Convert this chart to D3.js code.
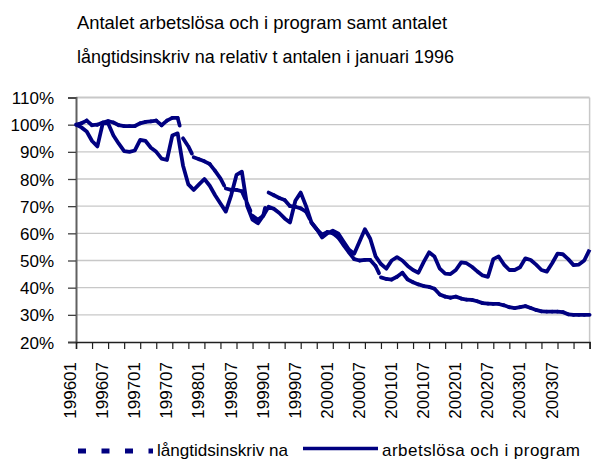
<!DOCTYPE html>
<html><head><meta charset="utf-8">
<script src="https://cdn.jsdelivr.net/npm/d3@7"></script>
<style>body{margin:0;background:#fff}svg{display:block}text{font-family:"Liberation Sans",Arial,sans-serif;fill:#000}</style>
</head><body><svg id="c" width="595" height="463"></svg>
<script>
// ---- data ----
const titleLines = ["Antalet arbetslösa och i program samt antalet", "långtidsinskriv na relativ t antalen i januari 1996"];
const seriesNames = ["långtidsinskriv na", "arbetslösa och i program"];
const startYear = 1996, nMonths = 97;
const categories = [];
for (let k = 0; k < nMonths; k++) { const y = startYear + Math.floor(k / 12), m = k % 12 + 1; categories.push(String(y) + (m < 10 ? "0" : "") + m); }
const tickLabelEvery = 6;
const yTicks = [0.2,0.3,0.4,0.5,0.6,0.7,0.8,0.9,1.0,1.1];
const langtid = [100,100.5,101.5,99.8,100,100.8,101.3,100.8,99.8,99.5,99.5,99.5,100.5,101,101.2,101.5,99.8,101.5,102.5,102.5,
  95,92,88,87.3,86.5,85.5,83,80.2,76.5,76,76,75.5,71,66.5,65,66.5,75,74,73,72.3,70,69.8,69.2,68,64,61.5,59.5,60.5,60,58.5,
  55.7,53,50.5,50,50.2,50.2,48,43.8,43.2,43,44,45.5,43,42,41.2,40.6,40.3,39.6,37.5,36.7,36.3,36.7,36,35.6,35.5,35,34.3,34.1,34,34,
  33.5,32.8,32.5,32.8,33.2,32.5,31.8,31.3,31.2,31.2,31.2,31,30.2,30,30,30,30];
const arbetslosa = [100,99,97.5,94,92,100.5,100.5,96,93,90.3,90,90.5,94.4,94,91.5,90,87.5,87,96,96.8,
  85,78,76,78,80,77.5,74,71,68,74,81.5,82.7,70,65,63.7,66.5,69.8,69,67.5,65.5,64,72,75,70,64,61.5,58.5,60,61,60,
  57,54,52.5,57,61.5,58,51.5,48.7,47,50,51.2,50,48,46.5,45.5,49.5,53,51.5,47,45.2,45,46.5,49.3,49,47.7,46,44.5,44,50.5,51.5,
  48.5,46.5,46.5,47.5,50.8,50.2,48.5,46.5,45.9,49,52.5,52.3,50.5,48.3,48.5,50,54];

// ---- drawing ----
const svg = d3.select("#c");
const navy = "#000080";
const x = d3.scalePoint().domain(categories).range([76, 589.6]);
const y = d3.scaleLinear().domain([0.2, 1.1]).range([342, 97.5]);

// title
svg.selectAll("text.title").data(titleLines).join("text").attr("class","title")
  .attr("x", 77).attr("y", (d,i) => 29 + i*34).style("font-size","18.5px")
  .attr("textLength", (d,i) => i === 0 ? 370 : 377).attr("lengthAdjust","spacingAndGlyphs").text(d => d);

// gridlines
svg.append("g").selectAll("line").data(yTicks.slice(1)).join("line")
  .attr("x1", 76).attr("x2", 589.6).attr("y1", d => y(d)).attr("y2", d => y(d))
  .attr("stroke", "#c8c8c8").attr("stroke-width", (d) => d > 1.05 ? 2 : 1.3);
svg.append("line").attr("x1", 589.6).attr("x2", 589.6).attr("y1", y(1.1)).attr("y2", y(0.2))
  .attr("stroke", "#c8c8c8").attr("stroke-width", 1.5);

// y axis
const yAxis = d3.axisLeft(y).tickValues(yTicks).tickFormat(d3.format(".0%")).tickSize(8).tickPadding(14);
const gy = svg.append("g").attr("transform", "translate(76,0)").call(yAxis);
gy.select(".domain").attr("stroke", "#606060").attr("stroke-width", 2);
gy.selectAll(".tick line").attr("stroke", "#404040").attr("stroke-width", 1.3);
gy.selectAll(".tick text").style("font-size", "17px").attr("fill", "#000").attr("dy", "0.36em");

// x axis
const xAxis = d3.axisBottom(x).tickValues(categories.filter((d,i) => i % 3 === 0)).tickSize(7).tickFormat("");
const gx = svg.append("g").attr("transform", "translate(0,342)").call(xAxis);
gx.select(".domain").attr("stroke", "#202020").attr("stroke-width", 1.5);
gx.selectAll(".tick line").attr("stroke", "#202020").attr("stroke-width", 1.2);
svg.append("g").selectAll("text").data(categories.filter((d,i) => i % tickLabelEvery === 0 && i < 96)).join("text")
  .attr("transform", d => `translate(${x(d)},362) rotate(-90)`)
  .attr("text-anchor", "end").style("font-size", "17px").text(d => d);

// lines
const pts1 = categories.map((c,i) => [x(c), y(langtid[i]/100)]);
const pts2 = categories.map((c,i) => [x(c), y(arbetslosa[i]/100)]);
const line = d3.line();
svg.append("path").attr("d", line(pts2)).attr("fill","none").attr("stroke", navy)
  .attr("stroke-width", 3.8).attr("stroke-linejoin","round");
svg.append("g").selectAll("path").data(d3.pairs(pts1)).join("path")
  .attr("d", d => line(d)).attr("fill","none").attr("stroke", navy)
  .attr("stroke-width", 3.8).attr("stroke-dasharray", "8,16").attr("stroke-linecap","round");

// legend
const lg = svg.append("g");
lg.append("line").attr("x1", 78).attr("x2", 153).attr("y1", 451).attr("y2", 451)
  .attr("stroke", navy).attr("stroke-width", 5).attr("stroke-dasharray", "8,15.5");
lg.append("text").attr("x", 157).attr("y", 456).style("font-size","17px")
  .attr("textLength", 131).attr("lengthAdjust","spacingAndGlyphs").text(seriesNames[0]);
lg.append("line").attr("x1", 303).attr("x2", 378).attr("y1", 448.5).attr("y2", 448.5)
  .attr("stroke", navy).attr("stroke-width", 3.5);
lg.append("text").attr("x", 382).attr("y", 456).style("font-size","17px")
  .attr("textLength", 198).attr("lengthAdjust","spacing").text(seriesNames[1]);
</script></body></html>
